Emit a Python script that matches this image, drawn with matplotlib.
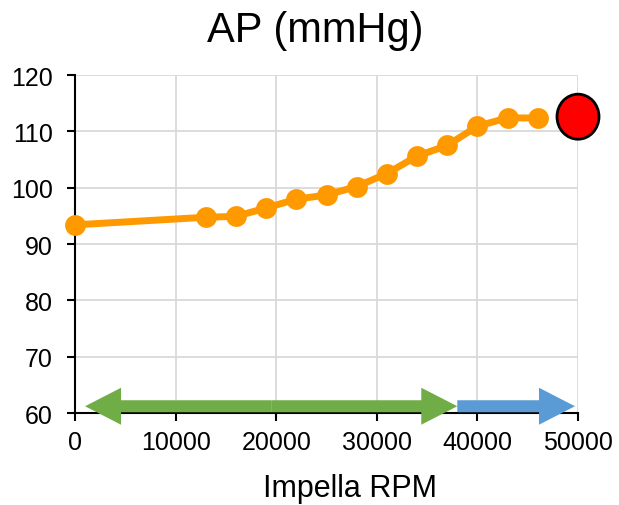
import matplotlib
matplotlib.use("Agg")
import matplotlib.pyplot as plt
from matplotlib.patches import FancyArrow, Ellipse

plt.rcParams['font.family'] = ['Liberation Sans', 'DejaVu Sans']

# Impella speed sweep and arterial pressure
rpm = [0, 13000, 16000, 19000, 22000, 25000, 28000, 31000, 34000, 37000, 40000, 43000, 46000]
ap = [93.4, 94.75, 94.9, 96.4, 97.95, 98.7, 100.2, 102.5, 105.6, 107.5, 110.9, 112.4, 112.35]
peak_rpm = 50000
peak_ap = 112.6

x_ticks = [0, 10000, 20000, 30000, 40000, 50000]
y_ticks = [60, 70, 80, 90, 100, 110, 120]

# Range arrows along the bottom of the plot
green_range = [1000, 38000]
blue_range = [38000, 49700]
arrow_level = 61.2

W, H = 619, 506
fig = plt.figure(figsize=(W / 100, H / 100), dpi=100)
ax = fig.add_axes([75 / W, 1 - 414 / H, 503 / W, 338 / H])

ax.set_xlim(0, 50000)
ax.set_ylim(60, 120)
ax.set_xticks(x_ticks)
ax.set_yticks(y_ticks)
ax.grid(True, color='#d9d9d9', linewidth=1.3)
ax.set_axisbelow(True)
for s in ['top', 'right']:
    ax.spines[s].set_visible(False)
for s in ['left', 'bottom']:
    ax.spines[s].set_linewidth(1.5)
    ax.spines[s].set_color('black')
ax.tick_params(axis='both', labelsize=18, length=5.5, width=1.5, color='black')
ax.tick_params(axis='y', pad=10.5)
ax.tick_params(axis='x', pad=7)

ax.plot(rpm, ap, color='#ff9900', linewidth=5, marker='o', markersize=15,
        markeredgewidth=0, zorder=3, clip_on=False)

# Pixel-to-data conversion factors
px_x = 50000 / 503
px_y = 60 / 338

ax.add_patch(Ellipse((peak_rpm, peak_ap), width=42 * px_x, height=45 * px_y,
                     facecolor='#ff0000', edgecolor='black', linewidth=2,
                     zorder=4, clip_on=False))

shaft = 12 * px_y
head_w = 37 * px_y
head_l = 36 * px_x

ax.add_patch(FancyArrow(blue_range[0], arrow_level, blue_range[1] - blue_range[0], 0,
                        width=shaft, head_width=head_w, head_length=head_l,
                        length_includes_head=True, color='#5b9bd5', lw=0, zorder=4,
                        clip_on=False))
mid = (green_range[0] + green_range[1]) / 2
for start, end in [(mid, green_range[1]), (mid, green_range[0])]:
    ax.add_patch(FancyArrow(start, arrow_level, end - start, 0,
                            width=shaft, head_width=head_w, head_length=head_l,
                            length_includes_head=True, color='#70ad47', lw=0, zorder=5,
                            clip_on=False))

fig.text(315 / W, 1 - 42 / H, 'AP (mmHg)', fontsize=30, ha='center', va='baseline')
fig.text(350 / W, 1 - 497 / H, 'Impella RPM', fontsize=22, ha='center', va='baseline')

fig.savefig('out.png', dpi=100)
